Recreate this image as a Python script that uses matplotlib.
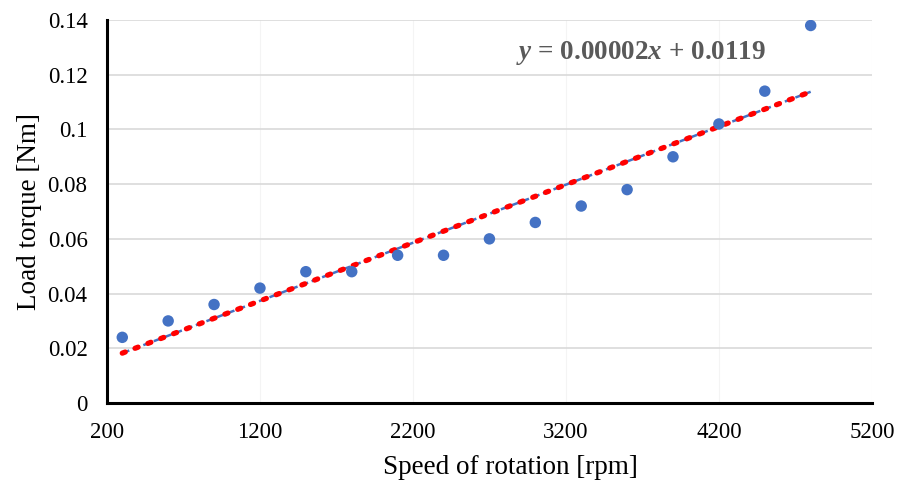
import numpy as np
import matplotlib
matplotlib.use("Agg")
import matplotlib.pyplot as plt

plt.rcParams['font.family'] = ['Liberation Serif', 'DejaVu Serif']
plt.rcParams['mathtext.fontset'] = 'custom'
plt.rcParams['mathtext.rm'] = 'Liberation Serif:bold'
plt.rcParams['mathtext.it'] = 'Liberation Serif:italic:bold'
plt.rcParams['mathtext.bf'] = 'Liberation Serif:bold'

speed = [300, 600, 900, 1200, 1500, 1800, 2100, 2400, 2700, 3000,
         3300, 3600, 3900, 4200, 4500, 4800]
torque = [0.024, 0.030, 0.036, 0.042, 0.048, 0.048, 0.054, 0.054, 0.060,
          0.066, 0.072, 0.078, 0.090, 0.102, 0.114, 0.138]
x_ticks = [200, 1200, 2200, 3200, 4200, 5200]
y_ticks = [0, 0.02, 0.04, 0.06, 0.08, 0.1, 0.12, 0.14]
y_tick_labels = ["0", "0.02", "0.04", "0.06", "0.08", "0.1", "0.12", "0.14"]
equation = r"$y$ = 0.00002$x$ + 0.0119"

fig = plt.figure(figsize=(9.02, 4.86), dpi=100)
ax = fig.add_axes([0.1186, 0.1708, 0.848, 0.788])

slope, intercept = np.polyfit(speed, torque, 1)
xs = np.array([speed[0], speed[-1]])
ys = slope * xs + intercept

ax.plot(xs, ys, color='#4472C4', lw=1.8, ls=(0, (3, 1.5)), zorder=3)
ax.plot(xs, ys, color='#FF0000', lw=3.8, ls=(0, (0.6, 2.0)),
        dash_capstyle='round', zorder=4)
ax.scatter(speed, torque, s=68, color='#4472C4', zorder=5, edgecolors='none')

ax.set_xlim(200, 5200)
ax.set_ylim(0, 0.14)
ax.set_xticks(x_ticks)
ax.set_yticks(y_ticks)
ax.set_yticklabels(y_tick_labels)
ax.tick_params(axis='both', length=0, labelsize=16.5, colors='black')
ax.tick_params(axis='x', pad=14)
ax.tick_params(axis='y', pad=14)

ax.grid(axis='y', color='#d9d9d9', lw=1.2)
ax.grid(axis='x', color='#f4f4f4', lw=0.8)
ax.set_axisbelow(True)

for s in ['top', 'right']:
    ax.spines[s].set_visible(False)
for s in ['left', 'bottom']:
    ax.spines[s].set_linewidth(2.2)
    ax.spines[s].set_color('black')

ax.set_xlabel("Speed of rotation [rpm]", fontsize=19.5, labelpad=8)
ax.set_ylabel("Load torque [Nm]", fontsize=19.5, labelpad=4)
ax.xaxis.set_label_coords(0.528, -0.137)

ax.text(0.698, 0.915, equation, transform=ax.transAxes, fontsize=19.5,
        fontweight='bold', color='#595959', ha='center', va='center')

fig.savefig("out.png", dpi=100)
